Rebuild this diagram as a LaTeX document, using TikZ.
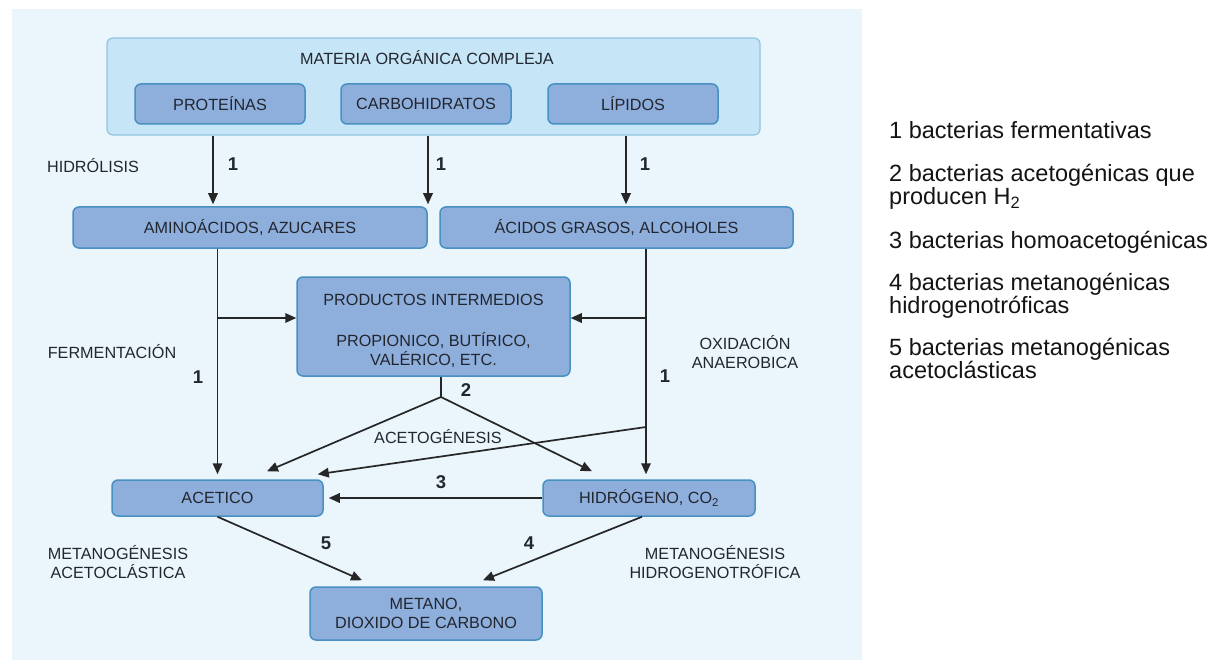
\documentclass[tikz,border=0pt]{standalone}
\usepackage{fontspec}
\setmainfont{Liberation Sans}
\usetikzlibrary{arrows.meta}

\definecolor{panel}{HTML}{EAF5FC}
\definecolor{outerfill}{HTML}{C6E6F7}
\definecolor{outerline}{HTML}{92C4E0}
\definecolor{boxfill}{HTML}{8EAEDC}
\definecolor{boxline}{HTML}{4690C2}
\definecolor{ink}{HTML}{22262F}
\definecolor{arrowink}{HTML}{262626}

\begin{document}
\begin{tikzpicture}[x=1pt,y=-1pt,
  box/.style={draw=boxline, line width=1.5pt, fill=boxfill, rounded corners=6pt,
    inner sep=0pt, font=\fontsize{16.2}{19}\selectfont, text=ink, align=center},
  lbl/.style={font=\fontsize{16.2}{19}\selectfont, text=ink, align=center, inner sep=0pt},
  num/.style={font=\fontsize{18.5}{20}\selectfont\bfseries, text=ink, inner sep=0pt},
  wire/.style={draw=arrowink, line width=1.7pt},
  flow/.style={wire, -{Triangle[length=11pt,width=9.5pt]}},
  legend/.style={font=\fontsize{23.5}{25}\selectfont, anchor=base west, inner sep=0pt, text=black!92}]

\useasboundingbox (0,0) rectangle (1222,660);
\fill[panel] (12,9) rectangle (862,660);

% source material
\node[box, draw=outerline, line width=1.2pt, fill=outerfill,
      minimum width=653pt, minimum height=97pt] (outer) at (433.5,86.5) {};
\node[lbl] (title) at (427,58) {MATERIA ORGÁNICA COMPLEJA};
\node[box, minimum width=170pt, minimum height=40pt] (prot) at (220,104) {PROTEÍNAS};
\node[box, minimum width=170pt, minimum height=40pt] (carb) at (426,104) {CARBOHIDRATOS};
\node[box, minimum width=170pt, minimum height=40pt] (lip)  at (633,104) {LÍPIDOS};

% intermediate stages
\node[box, minimum width=354pt, minimum height=41pt] (amino)  at (250,227.5) {AMINOÁCIDOS, AZUCARES};
\node[box, minimum width=353pt, minimum height=41pt] (acidos) at (616.5,227.5) {ÁCIDOS GRASOS, ALCOHOLES};
\node[box, minimum width=273pt, minimum height=99pt] (prod) at (433.5,326.5) {};
\node[lbl] (prodA) at (433.5,300) {PRODUCTOS INTERMEDIOS};
\node[lbl] (prodB) at (433.5,350) {PROPIONICO, BUTÍRICO,\\VALÉRICO, ETC.};
\node[box, minimum width=211pt, minimum height=36pt] (acet) at (217.5,498) {ACETICO};
\node[box, minimum width=212pt, minimum height=36pt] (hidr) at (649,498) {HIDRÓGENO, CO\textsubscript{2}};
\node[box, minimum width=232pt, minimum height=53pt] (met) at (426,613.5) {METANO,\\DIOXIDO DE CARBONO};

% guide positions
\coordinate (h1) at (213,0);
\coordinate (h2) at (428,0);
\coordinate (h3) at (626,0);
\coordinate (colR) at (646,0);
\coordinate (rowA) at (0,318);
\coordinate (rowB) at (0,427);
\coordinate (split) at (441,397);

% hydrolysis
\draw[flow, shorten >=2pt] (outer.south -| h1) -- (amino.north -| h1);
\draw[flow, shorten >=2pt] (outer.south -| h2) -- (amino.north -| h2);
\draw[flow, shorten >=2pt] (outer.south -| h3) -- (acidos.north -| h3);

% fermentation and anaerobic oxidation
\draw[flow, shorten >=5pt] (amino.south -| acet.north) -- (acet.north);
\draw[flow] (acet.north |- rowA) -- (prod.west |- rowA);
\draw[flow, shorten >=5pt] (acidos.south -| colR) -- (hidr.north -| colR);
\draw[flow] (colR |- rowA) -- (prod.east |- rowA);
\draw[flow] (colR |- rowB) -- ([xshift=-6pt,yshift=5pt]acet.north east);

% acetogenesis
\draw[wire] (prod.south -| split) -- (split);
\draw[flow] (split) -- ([xshift=49.5pt,yshift=8pt]acet.north);
\draw[flow] (split) -- ([xshift=-57pt,yshift=8pt]hidr.north);

% homoacetogenesis and methanogenesis
\draw[flow, shorten >=5pt] (hidr.west) -- (acet.east);
\draw[flow] (acet.south) -- ([xshift=-64pt,yshift=6pt]met.north);
\draw[flow] ([xshift=-7pt]hidr.south) -- ([xshift=57pt,yshift=6pt]met.north);

% stage labels
\node[lbl] (lHid) at (93,166) {HIDRÓLISIS};
\node[lbl] (lFer) at (112,352) {FERMENTACIÓN};
\node[lbl] (lOxi) at (745,352) {OXIDACIÓN\\ANAEROBICA};
\node[lbl] (lAce) at (438,437) {ACETOGÉNESIS};
\node[lbl] (lMa)  at (118,562) {METANOGÉNESIS\\ACETOCLÁSTICA};
\node[lbl] (lMh)  at (715,562) {METANOGÉNESIS\\HIDROGENOTRÓFICA};

% bacterial group numbers
\node[num] (n1a) at (233,164) {1};
\node[num] (n1b) at (441,164) {1};
\node[num] (n1c) at (645,164) {1};
\node[num] (n1d) at (198,377) {1};
\node[num] (n1e) at (665,376) {1};
\node[num] (n2)  at (466,390) {2};
\node[num] (n3)  at (441,482) {3};
\node[num] (n5)  at (326,543) {5};
\node[num] (n4)  at (529,543) {4};

% key to the numbers
\node[legend] (k1)  at (889,139) {1 bacterias fermentativas};
\node[legend] (k2)  at (889,182) {2 bacterias acetogénicas que};
\node[legend] (k2b) at (889,205) {producen H\textsubscript{2}};
\node[legend] (k3)  at (889,248) {3 bacterias homoacetogénicas};
\node[legend] (k4)  at (889,290) {4 bacterias metanogénicas};
\node[legend] (k4b) at (889,313) {hidrogenotróficas};
\node[legend] (k5)  at (889,355) {5 bacterias metanogénicas};
\node[legend] (k5b) at (889,378) {acetoclásticas};
\end{tikzpicture}
\end{document}
